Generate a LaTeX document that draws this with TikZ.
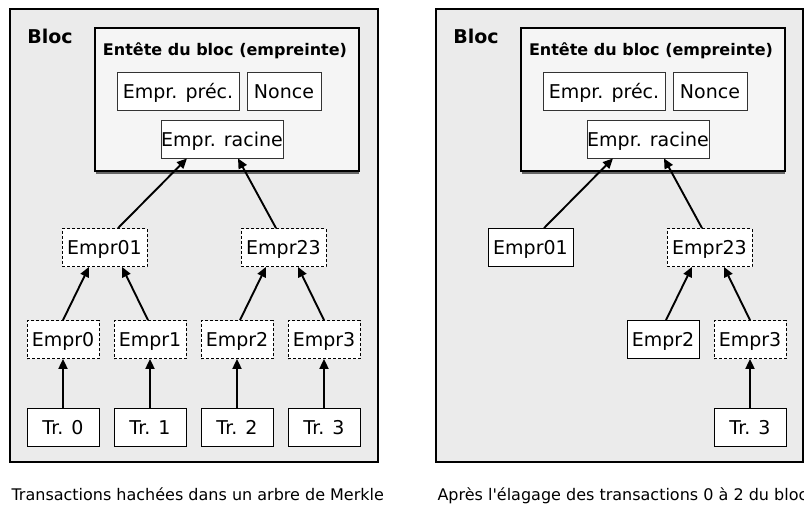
\documentclass[tikz,border=0pt]{standalone}
\usepackage{fontspec}
\setmainfont{DejaVu Sans}
\usetikzlibrary{arrows.meta}
\newcommand{\apos}{\XeTeXglyph\XeTeXcharglyph"27\relax}
\begin{document}
\begin{tikzpicture}[x=1pt,y=-1pt,
	box/.style={draw,fill=white,line width=0.8pt,inner sep=0pt,minimum height=38pt,
		text height=14pt,text depth=0pt,font=\fontsize{19}{21}\selectfont},
	hdrbox/.style={box,draw=black!80},
	hashbox/.style={box,dash pattern=on 3pt off 2pt},
	link/.style={-{Triangle[length=10pt,width=9pt]},line width=1.9pt},
	blocbg/.style={fill=black!8,line width=1.6pt},
	hdrbg/.style={fill=black!4,line width=2pt},
	title/.style={font=\bfseries\fontsize{19}{21}\selectfont},
	hdrtitle/.style={font=\bfseries\fontsize{16}{18}\selectfont},
	caption/.style={anchor=base west,font=\fontsize{16}{18}\selectfont}]
	\useasboundingbox (0,0) rectangle (804,504);

	\filldraw[blocbg] (10,9) rectangle (378,462);
	\fill[black!60] (96,31) rectangle (359,174);
	\filldraw[hdrbg] (95,28) rectangle (359,171);
	\node[title] (bloc) at (50,36) {Bloc};
	\node[hdrtitle] (entete) at (225,51) {Entête du bloc (empreinte)};
	\node[hdrbox,minimum width=122pt] (prec) at (178,91) {Empr. préc.};
	\node[hdrbox,minimum width=74pt] (nonce) at (284,91) {Nonce};
	\node[hdrbox,minimum width=122pt] (racine) at (222,139) {Empr. racine};
	\node[hashbox,minimum width=85pt] (e01) at (104.5,247.5) {Empr01};
	\node[hashbox,minimum width=85pt] (e23) at (283.5,247.5) {Empr23};
	\node[hashbox,minimum width=72pt] (e0) at (63,339.5) {Empr0};
	\node[hashbox,minimum width=72pt] (e1) at (150,339.5) {Empr1};
	\node[hashbox,minimum width=72pt] (e2) at (237,339.5) {Empr2};
	\node[hashbox,minimum width=72pt] (e3) at (324,339.5) {Empr3};
	\node[box,minimum width=72pt] (t0) at (63,427.5) {Tr. 0};
	\node[box,minimum width=72pt] (t1) at (150,427.5) {Tr. 1};
	\node[box,minimum width=72pt] (t2) at (237,427.5) {Tr. 2};
	\node[box,minimum width=72pt] (t3) at (324,427.5) {Tr. 3};
	\draw[link] ([xshift=13.5pt]e01.north) -- ([xshift=-35pt]racine.south);
	\draw[link] ([xshift=-7.5pt]e23.north) -- ([xshift=16pt]racine.south);
	\draw[link] (e0.north) -- ([xshift=-15.5pt]e01.south);
	\draw[link] ([xshift=-2pt]e1.north) -- ([xshift=17.5pt]e01.south);
	\draw[link] ([xshift=3pt]e2.north) -- ([xshift=-17.5pt]e23.south);
	\draw[link] (e3.north) -- ([xshift=14.5pt]e23.south);
	\draw[link] (t0) -- (e0);
	\draw[link] (t1) -- (e1);
	\draw[link] (t2) -- (e2);
	\draw[link] (t3) -- (e3);
	\node[caption] (cap1) at (8,500) {Transactions hachées dans un arbre de Merkle};

	\filldraw[blocbg] (436,9) rectangle (803,462);
	\fill[black!60] (522,31) rectangle (785,174);
	\filldraw[hdrbg] (521,28) rectangle (785,171);
	\node[title] (bloc2) at (476,36) {Bloc};
	\node[hdrtitle] (entete2) at (651,51) {Entête du bloc (empreinte)};
	\node[hdrbox,minimum width=122pt] (prec2) at (604,91) {Empr. préc.};
	\node[hdrbox,minimum width=74pt] (nonce2) at (710,91) {Nonce};
	\node[hdrbox,minimum width=122pt] (racine2) at (648,139) {Empr. racine};
	\node[box,minimum width=85pt] (f01) at (530.5,247.5) {Empr01};
	\node[hashbox,minimum width=85pt] (f23) at (709.5,247.5) {Empr23};
	\node[box,minimum width=72pt] (f2) at (663,339.5) {Empr2};
	\node[hashbox,minimum width=72pt] (f3) at (750,339.5) {Empr3};
	\node[box,minimum width=72pt] (u3) at (750,427.5) {Tr. 3};
	\draw[link] ([xshift=13.5pt]f01.north) -- ([xshift=-35pt]racine2.south);
	\draw[link] ([xshift=-7.5pt]f23.north) -- ([xshift=16pt]racine2.south);
	\draw[link] ([xshift=3pt]f2.north) -- ([xshift=-17.5pt]f23.south);
	\draw[link] (f3.north) -- ([xshift=14.5pt]f23.south);
	\draw[link] (u3) -- (f3);
	\node[caption] (cap2) at (434,500) {Après l\apos élagage des transactions 0 à 2 du bloc};
\end{tikzpicture}
\end{document}
